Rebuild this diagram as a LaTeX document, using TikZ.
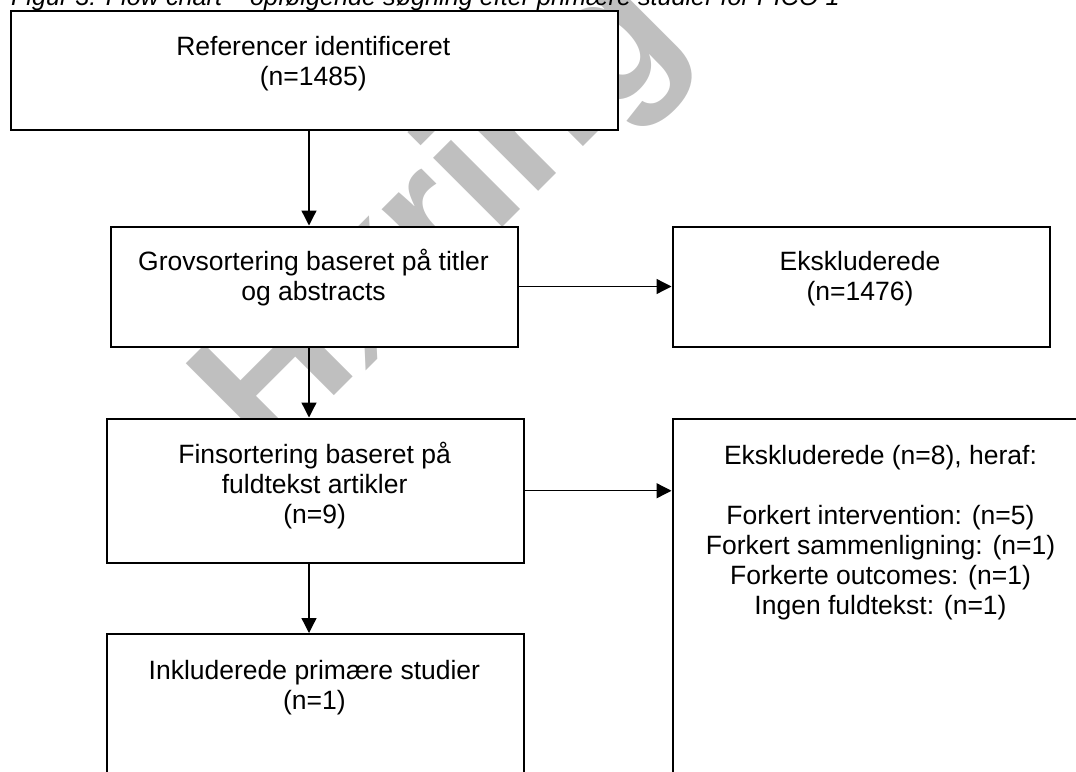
\documentclass[tikz,border=0pt]{standalone}
\usepackage{fontspec}
\setmainfont{Liberation Sans}
\usetikzlibrary{arrows.meta}
\begin{document}
\begin{tikzpicture}[x=0.5pt,y=-0.5pt,
  stagebox/.style={draw=black, line width=1pt, fill=white, inner sep=0pt, anchor=north west},
  stagetext/.style={align=center, inner sep=0pt, anchor=base, font=\fontsize{13.25}{15}\selectfont},
  flow/.style={line width=0.65pt, -{Triangle[length=7.5pt,width=7.5pt]}},
  wmark/.style={text=black!25, inner sep=0pt, anchor=base west, rotate=45, font=\fontsize{92.5}{92.5}\selectfont\bfseries}
]
\useasboundingbox (0,0) rectangle (1076,771);
\clip (0,0) rectangle (1076,771);

% watermark behind the chart
\node[wmark] (wm) at (267.5,462.5) {Høring};

% caption
\node[inner sep=0pt, anchor=base west, font=\fontsize{12.6}{15}\selectfont\itshape] (cap) at (10.7,5)
  {Figur 3: Flow chart – opfølgende søgning efter primære studier for PICO 1};

% boxes
\node[stagebox, minimum width=303.75pt, minimum height=59.5pt] (b1) at (9.5,10) {};
\node[stagebox, minimum width=203.5pt, minimum height=60pt] (b2) at (110,225.5) {};
\node[stagebox, minimum width=188.75pt, minimum height=60pt] (b3) at (671.5,225.5) {};
\node[stagebox, minimum width=208.65pt, minimum height=72.25pt] (b4) at (106,417.5) {};
\node[stagebox, minimum width=209pt, minimum height=200pt] (b5) at (671.5,417.5) {};
\node[stagebox, minimum width=208.9pt, minimum height=120pt] (b6) at (105.5,633) {};

% box texts (anchored at the baseline of the last line)
\node[stagetext] (t1) at (313.25,85) {Referencer identificeret\\(n=1485)};
\node[stagetext] (t2) at (313.5,300.5) {Grovsortering baseret på titler\\og abstracts};
\node[stagetext] (t3) at (860,300.5) {Ekskluderede\\(n=1476)};
\node[stagetext] (t4) at (314.6,523) {Finsortering baseret på\\fuldtekst artikler\\(n=9)};
\node[stagetext] (t5) at (880.5,614) {Ekskluderede (n=8), heraf:\\[15pt]Forkert intervention: (n=5)\\Forkert sammenligning: (n=1)\\Forkerte outcomes: (n=1)\\Ingen fuldtekst: (n=1)};
\node[stagetext] (t6) at (314.4,709) {Inkluderede primære studier\\(n=1)};

% connectors
\coordinate (col) at (309,0);
\draw[flow] (b1.south -| col) -- (b2.north -| col);
\draw[flow] (b2.south -| col) -- (b4.north -| col);
\draw[flow] (b4.south -| col) -- (b6.north -| col);
\draw[flow] (b2.east) -- (b3.west);
\draw[flow] (b4.east) -- (b5.west |- b4.east);
\end{tikzpicture}
\end{document}
